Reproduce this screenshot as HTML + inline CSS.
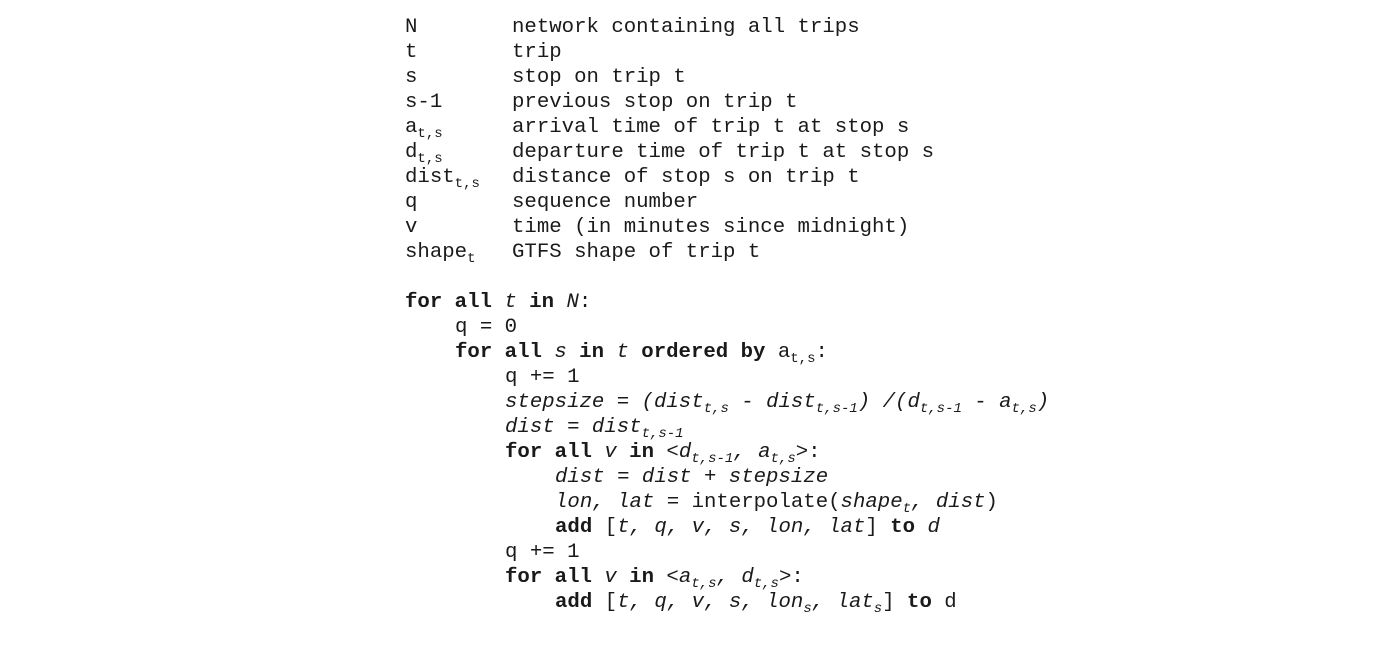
<!DOCTYPE html>
<html><head><meta charset="utf-8"><style>
html,body{margin:0;padding:0;background:#fff;width:1400px;height:654px;overflow:hidden}
.l{position:absolute;white-space:pre;font-family:"Liberation Mono",monospace;font-size:20.7px;line-height:25px;color:#1a1a1a;height:25px}
sub{font-size:14px;vertical-align:-5px;line-height:0}
b{font-weight:bold}
i{font-style:italic}
</style></head><body>
<div class="l" style="left:405px;top:15px">N</div><div class="l" style="left:512px;top:15px">network containing all trips</div>
<div class="l" style="left:405px;top:40px">t</div><div class="l" style="left:512px;top:40px">trip</div>
<div class="l" style="left:405px;top:65px">s</div><div class="l" style="left:512px;top:65px">stop on trip t</div>
<div class="l" style="left:405px;top:90px">s-1</div><div class="l" style="left:512px;top:90px">previous stop on trip t</div>
<div class="l" style="left:405px;top:115px">a<sub>t,s</sub></div><div class="l" style="left:512px;top:115px">arrival time of trip t at stop s</div>
<div class="l" style="left:405px;top:140px">d<sub>t,s</sub></div><div class="l" style="left:512px;top:140px">departure time of trip t at stop s</div>
<div class="l" style="left:405px;top:165px">dist<sub>t,s</sub></div><div class="l" style="left:512px;top:165px">distance of stop s on trip t</div>
<div class="l" style="left:405px;top:190px">q</div><div class="l" style="left:512px;top:190px">sequence number</div>
<div class="l" style="left:405px;top:215px">v</div><div class="l" style="left:512px;top:215px">time (in minutes since midnight)</div>
<div class="l" style="left:405px;top:240px">shape<sub>t</sub></div><div class="l" style="left:512px;top:240px">GTFS shape of trip t</div>

<div class="l" style="left:405px;top:290px"><b>for all</b> <i>t</i> <b>in</b> <i>N</i>:</div>
<div class="l" style="left:455px;top:315px">q = 0</div>
<div class="l" style="left:455px;top:340px"><b>for all</b> <i>s</i> <b>in</b> <i>t</i> <b>ordered by</b> a<sub>t,s</sub>:</div>
<div class="l" style="left:505px;top:365px">q += 1</div>
<div class="l" style="left:505px;top:390px"><i>stepsize = (dist<sub>t,s</sub> - dist<sub>t,s-1</sub>) /(d<sub>t,s-1</sub> - a<sub>t,s</sub>)</i></div>
<div class="l" style="left:505px;top:415px"><i>dist = dist<sub>t,s-1</sub></i></div>
<div class="l" style="left:505px;top:440px"><b>for all</b> <i>v</i> <b>in</b> &lt;<i>d<sub>t,s-1</sub>, a<sub>t,s</sub></i>&gt;:</div>
<div class="l" style="left:555px;top:465px"><i>dist = dist + stepsize</i></div>
<div class="l" style="left:555px;top:490px"><i>lon, lat</i> = interpolate(<i>shape<sub>t</sub>, dist</i>)</div>
<div class="l" style="left:555px;top:515px"><b>add</b> [<i>t, q, v, s, lon, lat</i>] <b>to</b> <i>d</i></div>
<div class="l" style="left:505px;top:540px">q += 1</div>
<div class="l" style="left:505px;top:565px"><b>for all</b> <i>v</i> <b>in</b> &lt;<i>a<sub>t,s</sub>, d<sub>t,s</sub></i>&gt;:</div>
<div class="l" style="left:555px;top:590px"><b>add</b> [<i>t, q, v, s, lon<sub>s</sub>, lat<sub>s</sub></i>] <b>to</b> d</div>
</body></html>
